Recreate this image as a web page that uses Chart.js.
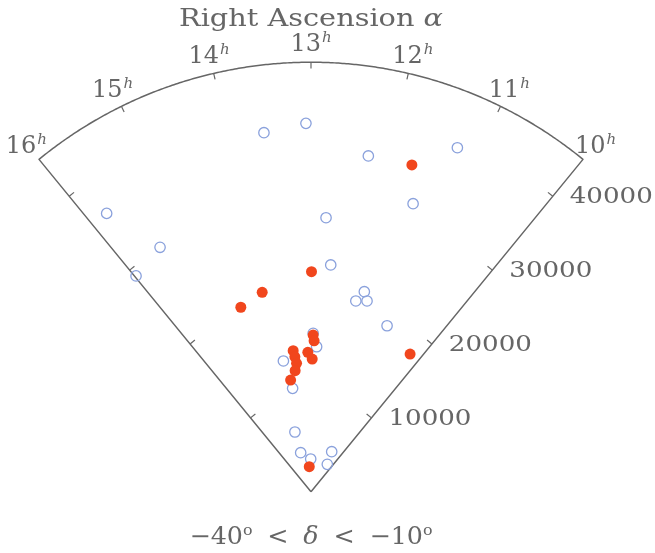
<!DOCTYPE html>
<html>
<head>
<meta charset="utf-8">
<script src="https://cdn.jsdelivr.net/npm/chart.js@4/dist/chart.umd.min.js"></script>
<style>
  html, body { margin: 0; padding: 0; background: #fff; }
  #wrap { width: 655px; height: 553px; }
</style>
</head>
<body>
<div id="wrap"><canvas id="cone" width="655" height="553"></canvas></div>
<script>
// Galaxies in the slice -40° < dec < -10°: right ascension (hours) and velocity cz (km/s)
const openRA = [13.57, 13.06, 12.26, 11.24, 11.51, 12.76, 15.77, 15.42, 15.98, 12.62, 11.86, 11.99,
                11.75, 11.12, 12.94, 12.83, 13.91, 13.77, 14.15, 14.13, 13.04, 10.91, 10.65];
const openCZ = [37940, 38600, 35690, 39170, 32020, 28750, 36180, 30100, 29110, 23850, 21690, 20530,
                20830, 19130, 16600, 15200, 14000, 11000, 6480, 4230, 3430, 4720, 3340];
const filledRA = [11.69, 14.05, 14.59, 12.99, 10.27, 12.94, 12.91, 13.55, 13.10, 13.52, 12.96, 13.49,
                  13.57, 13.79, 13.30];
const filledCZ = [35830, 21510, 20680, 23050, 17770, 16420, 15820, 14890, 14610, 14240, 13900, 13540,
                  12790, 11890, 2630];

// Axis ticks
const hourTicks = [16, 15, 14, 13, 12, 11, 10];
const velocityTicks = [10000, 20000, 30000, 40000];
const raMin = 10, raMax = 16, czMax = 45000;

// Wedge geometry
const RA_CENTER = 13;
const DEG_PER_HOUR = 13.1;

function toXY(ra, cz) {
  const t = (RA_CENTER - ra) * DEG_PER_HOUR * Math.PI / 180;
  return { x: cz * Math.sin(t), y: cz * Math.cos(t) };
}

const openPts = openRA.map((ra, i) => toXY(ra, openCZ[i]));
const filledPts = filledRA.map((ra, i) => toXY(ra, filledCZ[i]));

const INK = '#666666';
const SERIF = '"DejaVu Serif", "Liberation Serif", serif';

// Draws a run of text pieces centred at (cx, cy), squeezed/stretched to a given width
function drawRich(ctx, pieces, cx, cy, width) {
  ctx.save();
  let total = 0;
  const widths = pieces.map(p => {
    ctx.font = p.font;
    const w = ctx.measureText(p.text).width;
    total += w + (p.gap || 0);
    return w;
  });
  const s = width ? width / total : 1;
  ctx.translate(cx - (total * s) / 2, cy);
  ctx.scale(s, 1);
  ctx.textBaseline = 'alphabetic';
  ctx.textAlign = 'left';
  ctx.fillStyle = INK;
  let x = 0;
  pieces.forEach((p, i) => {
    ctx.font = p.font;
    ctx.fillText(p.text, x, p.dy || 0);
    x += widths[i] + (p.gap || 0);
  });
  ctx.restore();
}

const wedgePlugin = {
  id: 'wedge',
  beforeDatasetsDraw(chart) {
    const ctx = chart.ctx;
    const xs = chart.scales.x, ys = chart.scales.y;
    const px = (p) => [xs.getPixelForValue(p.x), ys.getPixelForValue(p.y)];
    const at = (ra, cz) => px(toXY(ra, cz));

    ctx.save();
    ctx.strokeStyle = '#666';
    ctx.lineWidth = 1.5;
    ctx.lineJoin = 'round';

    // outline: left edge, outer arc, right edge
    ctx.beginPath();
    let p = at(raMax, 0);
    ctx.moveTo(p[0], p[1]);
    for (let ra = raMax; ra >= raMin - 1e-9; ra -= 0.02) {
      p = at(ra, czMax);
      ctx.lineTo(p[0], p[1]);
    }
    p = at(raMin, czMax); ctx.lineTo(p[0], p[1]);
    p = at(raMin, 0); ctx.lineTo(p[0], p[1]);
    ctx.stroke();

    // hour ticks on the arc
    ctx.lineWidth = 1.2;
    hourTicks.forEach(h => {
      if (h === raMin || h === raMax) return;
      const a = at(h, czMax), b = at(h, czMax - 650);
      ctx.beginPath(); ctx.moveTo(a[0], a[1]); ctx.lineTo(b[0], b[1]); ctx.stroke();
    });

    // velocity ticks on both edges, pointing into the wedge
    const tickLen = 650;
    [raMin, raMax].forEach(ra => {
      const t = (RA_CENTER - ra) * DEG_PER_HOUR * Math.PI / 180;
      const sgn = ra === raMin ? -1 : 1;
      velocityTicks.forEach(v => {
        const q = toXY(ra, v);
        const r = { x: q.x + sgn * Math.cos(t) * tickLen, y: q.y - sgn * Math.sin(t) * tickLen };
        const a = px(q), b = px(r);
        ctx.beginPath(); ctx.moveTo(a[0], a[1]); ctx.lineTo(b[0], b[1]); ctx.stroke();
      });
    });

    // velocity labels along the right edge
    ctx.fillStyle = INK;
    velocityTicks.forEach(v => {
      const a = at(raMin, v);
      const txt = String(v);
      ctx.save();
      ctx.font = '23px ' + SERIF;
      const w = ctx.measureText(txt).width;
      ctx.translate(a[0] + 17, a[1] + 1);
      ctx.scale(83 / w, 1);
      ctx.textAlign = 'left';
      ctx.textBaseline = 'middle';
      ctx.fillText(txt, 0, 0);
      ctx.restore();
    });

    // hour labels beyond the arc
    hourTicks.forEach(h => {
      const c = at(h, 47100);
      drawRich(ctx, [
        { text: String(h), font: '24px ' + SERIF, gap: 1 },
        { text: 'h', font: 'italic 15px ' + SERIF, dy: -9 }
      ], c[0], c[1] + 9, 0);
    });

    // title and declination range
    drawRich(ctx, [
      { text: 'Right Ascension ', font: '25px ' + SERIF },
      { text: 'α', font: 'italic 25px ' + SERIF }
    ], 311, 26, 264);

    drawRich(ctx, [
      { text: '−40', font: '24px ' + SERIF },
      { text: 'o', font: '15px ' + SERIF, dy: -9, gap: 14 },
      { text: '<', font: '24px ' + SERIF, gap: 14 },
      { text: 'δ', font: 'italic 24px ' + SERIF, gap: 14 },
      { text: '<', font: '24px ' + SERIF, gap: 14 },
      { text: '−10', font: '24px ' + SERIF },
      { text: 'o', font: '15px ' + SERIF, dy: -9 }
    ], 311, 544, 243);

    ctx.restore();
  }
};

// Equal pixel scale on both axes, apex of the wedge near the bottom centre
const X_MIN = -32590, X_MAX = 36050, Y_MIN = -6420, Y_MAX = 51520;

new Chart(document.getElementById('cone'), {
  type: 'scatter',
  data: {
    datasets: [
      {
        label: 'filled',
        data: filledPts,
        pointRadius: 5.5,
        pointHoverRadius: 5.5,
        pointBackgroundColor: '#f1461d',
        pointBorderColor: '#f1461d',
        pointBorderWidth: 0,
        clip: false,
        order: 0
      },
      {
        label: 'open',
        data: openPts,
        pointRadius: 5.2,
        pointHoverRadius: 5.2,
        pointBackgroundColor: 'rgba(0,0,0,0)',
        pointBorderColor: '#8aa1dc',
        pointBorderWidth: 1.3,
        clip: false,
        order: 1
      }
    ]
  },
  options: {
    responsive: false,
    animation: false,
    layout: { padding: 0, autoPadding: false },
    plugins: { legend: { display: false }, tooltip: { enabled: false } },
    events: [],
    scales: {
      x: { type: 'linear', min: X_MIN, max: X_MAX, display: false },
      y: { type: 'linear', min: Y_MIN, max: Y_MAX, display: false }
    }
  },
  plugins: [wedgePlugin]
});
</script>
</body>
</html>
